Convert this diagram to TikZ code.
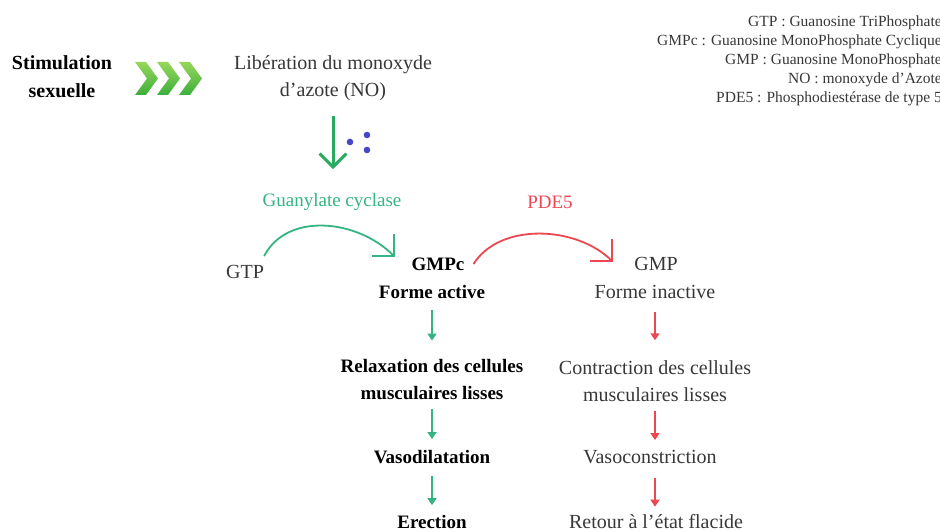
\documentclass[tikz,border=0pt]{standalone}
\usepackage{fontspec}
\setmainfont{Liberation Serif}
\usetikzlibrary{arrows.meta}
\definecolor{gr}{RGB}{52,180,128}
\definecolor{gno}{RGB}{40,170,95}
\definecolor{rd}{RGB}{235,72,82}
\definecolor{bl}{RGB}{70,70,200}
\definecolor{txt}{RGB}{55,55,55}
\definecolor{chevA}{RGB}{150,215,90}
\definecolor{chevB}{RGB}{60,175,60}
\begin{document}
\begin{tikzpicture}[x=1pt,y=-1pt,
  lbl/.style={inner sep=0pt, align=center, text=txt, font=\fontsize{20}{27}\selectfont},
  blbl/.style={inner sep=0pt, align=center, text=black, font=\fontsize{19}{27}\selectfont\bfseries},
  leg/.style={inner sep=0pt, anchor=east, text=txt, font=\fontsize{15.5}{18}\selectfont},
  gdown/.style={draw=gr, line width=1.5pt, -{Triangle[length=7pt,width=9pt]}},
  rdown/.style={draw=rd, line width=1.5pt, -{Triangle[length=7pt,width=9pt]}},
  garc/.style={draw=gr, line width=1.8pt, -{Straight Barb[angle=90:22pt]}},
  rarc/.style={draw=rd, line width=1.8pt, -{Straight Barb[angle=90:22pt]}},
  noarrow/.style={draw=gno, line width=3pt, -{Straight Barb[angle=90:19pt]}},
  chevron/.style={top color=chevA, bottom color=chevB, draw=none},
  nodot/.style={fill=bl, draw=none},
]
\useasboundingbox (0,0) rectangle (940,532);

% legend
\node[leg] (l1) at (942,23) {GTP : Guanosine TriPhosphate};
\node[leg] (l2) at (942,42) {GMPc : Guanosine MonoPhosphate Cyclique};
\node[leg] (l3) at (942,61) {GMP : Guanosine MonoPhosphate};
\node[leg] (l4) at (942,80) {NO : monoxyde d'Azote};
\node[leg] (l5) at (942,99) {PDE5 : Phosphodiestérase de type 5};

% top row
\node[blbl, font=\fontsize{20}{28}\selectfont\bfseries] (stim) at (62,77) {Stimulation\\sexuelle};
\foreach \i in {0,1,2}{
  \shade[chevron] ({135+22*\i},62) -- ({146+22*\i},62) -- ({158+22*\i},78.5) -- ({146+22*\i},95) -- ({135+22*\i},95) -- ({147+22*\i},78.5) -- cycle;
}
\node[lbl] (lib) at (333,78) {Libération du monoxyde\\d'azote (NO)};

% NO molecule
\fill[nodot] (350,142) circle (3.3pt);
\fill[nodot] (367,135) circle (3.3pt);
\fill[nodot] (367,150) circle (3.3pt);

\node[lbl, text=gr, font=\fontsize{19}{24}\selectfont] (gc) at (332,202) {Guanylate cyclase};
\node[lbl, text=rd, font=\fontsize{19}{24}\selectfont] (pde) at (550,202) {PDE5};

\draw[noarrow, shorten <=15pt, shorten >=24pt] (lib) -- (lib |- gc.north);

% middle row
\node[lbl] (gtp) at (245,272) {GTP};
\node[blbl] (gmpc) at (438,264) {GMPc};
\node[blbl] (gmpcf) at (432,292) {Forme active};
\node[lbl] (gmp) at (656,264) {GMP};
\node[lbl] (gmpf) at (655,292) {Forme inactive};

\coordinate (gtip) at (395,257);
\coordinate (rtip) at (613,262);
\draw[garc] ([yshift=9pt]gtp.north east) .. controls (287,212) and (357,219) .. (gtip);
\draw[rarc] ([xshift=9pt]gmpc.east) .. controls (500,222) and (577,226) .. (rtip);

% green column
\node[blbl] (relax) at (432,380) {Relaxation des cellules\\musculaires lisses};
\node[blbl] (vaso) at (432,457) {Vasodilatation};
\node[blbl] (erec) at (432,522) {Erection};

\draw[gdown, shorten <=11pt, shorten >=19pt] (gmpcf) -- (gmpcf |- relax.north);
\draw[gdown, shorten <=9pt, shorten >=11pt] (relax) -- (relax |- vaso.north);
\draw[gdown, shorten <=12pt, shorten >=10pt] (vaso) -- (vaso |- erec.north);

% red column
\node[lbl] (contr) at (655,381) {Contraction des cellules\\musculaires lisses};
\node[lbl] (vcon) at (650,457) {Vasoconstriction};
\node[lbl] (ret) at (656,522) {Retour à l'état flacide};

\draw[rdown, shorten <=13pt, shorten >=20pt] (gmpf) -- (gmpf |- contr.north);
\draw[rdown, shorten <=9pt, shorten >=10pt] (contr) -- (contr |- vcon.north);
\draw[rdown, shorten <=14pt, shorten >=8pt] (contr |- vcon.south) -- (contr |- ret.north);
\end{tikzpicture}
\end{document}
